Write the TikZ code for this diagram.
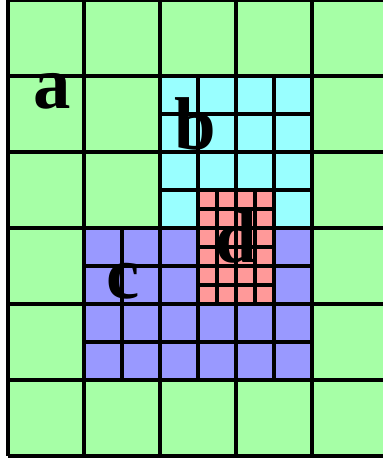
\documentclass[tikz,border=0pt]{standalone}
\usepackage{fontspec}
\setmainfont{Liberation Serif}
\usepackage{xcolor}
\usepackage{tikz}
\usetikzlibrary{positioning}
\definecolor{greencell}{HTML}{A6FFA6}
\definecolor{cyancell}{HTML}{99FFFF}
\definecolor{bluecell}{HTML}{9999FF}
\definecolor{redcell}{HTML}{FF9999}
\tikzset{
  gridline/.style={line width=2.8pt, black},
  finegrid/.style={line width=2.3pt, black},
  letter/.style={anchor=base, inner sep=0pt, font=\fontsize{56}{56}\selectfont\bfseries}
}

\begin{document}
\begin{tikzpicture}[x=2cm, y=2cm]
\clip (-0.105,-0.079) rectangle (4.934,6.0);
% coarse level
\fill[greencell] (0,0) rectangle (5,6);
% refined patches
\fill[cyancell] (2,3) rectangle (4,5);
\fill[bluecell] (1,1) rectangle (4,3);
\fill[redcell] (2.5,2) rectangle (3.5,3.5);
\draw[finegrid, step=1cm] (2,3) grid (4,5);
\draw[finegrid, step=1cm] (1,1) grid (4,3);
\draw[finegrid, step=0.5cm] (2.5,2) grid (3.5,3.5);
\draw[gridline, step=2cm] (0,0) grid (5,6);
% labels
\node[letter] (a) at (0.577,4.567) {a};
\node[letter] (b) at (2.47,4.03) {b};
\node[letter] (c) at (1.51,2.07) {c};
\node[letter] (d) at (3.005,2.55) {d};
\end{tikzpicture}
\end{document}
